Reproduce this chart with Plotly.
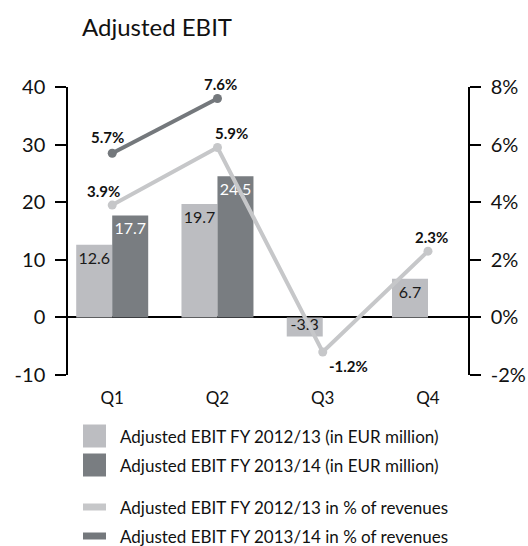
import plotly.graph_objects as go

quarters = ["Q1", "Q2", "Q3", "Q4"]
ebit_1213 = [12.6, 19.7, -3.3, 6.7]
ebit_1314 = [17.7, 24.5, None, None]
pct_1213 = [3.9, 5.9, -1.2, 2.3]
pct_1314 = [5.7, 7.6, None, None]

left_ticks = [-10, 0, 10, 20, 30, 40]
right_ticks = [-2, 0, 2, 4, 6, 8]

legend_names = [
    "Adjusted EBIT FY 2012/13 (in EUR million)",
    "Adjusted EBIT FY 2013/14 (in EUR million)",
    "Adjusted EBIT FY 2012/13 in % of revenues",
    "Adjusted EBIT FY 2013/14 in % of revenues",
]

light_bar = "#bcbdc1"
dark_bar = "#797d81"
light_line = "#c6c7c9"
dark_line = "#74787c"
font = "Lato, 'Open Sans', sans-serif"

W, H = 528, 546
ML, MR, MT, MB = 68, 60, 87, 171
PW, PH = W - ML - MR, H - MT - MB

xpos = list(range(len(quarters)))

fig = go.Figure()

fig.add_trace(go.Bar(
    x=xpos, y=ebit_1213, name=legend_names[0],
    marker=dict(color=light_bar, line=dict(width=0)),
    text=[f"{v}" for v in ebit_1213], textposition="inside", insidetextanchor="end",
    textangle=0, constraintext="none",
    textfont=dict(color="#1a1a1a", size=16, family=font),
    hoverinfo="skip",
))
fig.add_trace(go.Bar(
    x=xpos, y=ebit_1314, name=legend_names[1],
    marker=dict(color=dark_bar, line=dict(width=0)),
    text=[f"{v}" if v is not None else "" for v in ebit_1314],
    textposition="inside", insidetextanchor="end", textangle=0, constraintext="none",
    textfont=dict(color="white", size=16, family=font),
    hoverinfo="skip",
))

fig.add_trace(go.Scatter(
    x=xpos, y=pct_1213, yaxis="y2", mode="lines+markers", name=legend_names[2],
    line=dict(color=light_line, width=4), marker=dict(color=light_line, size=9),
    cliponaxis=False, hoverinfo="skip",
))
fig.add_trace(go.Scatter(
    x=xpos, y=pct_1314, yaxis="y2", mode="lines+markers", name=legend_names[3],
    line=dict(color=dark_line, width=4), marker=dict(color=dark_line, size=9),
    cliponaxis=False, hoverinfo="skip",
))

# percentage labels
shifts_1213 = [(-9, 14), (14, 14), (26, -14), (3, 14)]
shifts_1314 = [(-5, 16), (3, 15), (0, 0), (0, 0)]
for vals, shifts in ((pct_1213, shifts_1213), (pct_1314, shifts_1314)):
    for i, v in enumerate(vals):
        if v is None:
            continue
        fig.add_annotation(
            x=i, y=v, xref="x", yref="y2", text=f"<b>{v}%</b>", showarrow=False,
            xshift=shifts[i][0], yshift=shifts[i][1],
            font=dict(size=15, family=font, color="#111111"),
        )

# legend drawn by hand to match the large swatches
legend_rows = [436, 465, 507, 536]
for k, name in enumerate(legend_names):
    y_paper = (H - MB - legend_rows[k]) / PH
    x0 = (83 - ML) / PW
    x1 = (106 - ML) / PW
    if k < 2:
        half = 11.5 / PH
        color = light_bar if k == 0 else dark_bar
    else:
        half = 3.5 / PH
        color = light_line if k == 2 else dark_line
    fig.add_shape(type="rect", xref="paper", yref="paper", x0=x0, x1=x1,
                  y0=y_paper - half, y1=y_paper + half,
                  fillcolor=color, line=dict(width=0))
    fig.add_annotation(x=(118 - ML) / PW, y=y_paper, xref="paper", yref="paper",
                       text=name, showarrow=False, xanchor="left", yanchor="middle",
                       font=dict(size=17, family=font, color="#111111"))

fig.update_layout(
    width=W, height=H,
    margin=dict(l=ML, r=MR, t=MT, b=MB, autoexpand=False),
    paper_bgcolor="white", plot_bgcolor="white",
    font=dict(family=font, color="#111111"),
    title=dict(text="Adjusted EBIT", x=82 / W, xanchor="left", y=1 - 28 / H,
               yanchor="middle", font=dict(size=24, family=font, color="#111111")),
    barmode="group", bargap=0.316, bargroupgap=0,
    showlegend=False,
    xaxis=dict(range=[-0.42, 3.38], tickvals=xpos, ticktext=quarters,
               showgrid=False, zeroline=False, showline=False, automargin=False,
               ticks="outside", ticklen=8, tickcolor="white",
               tickfont=dict(size=17, family=font, color="#111111")),
    yaxis=dict(range=[-10, 40], tickvals=left_ticks, ticktext=[str(t) for t in left_ticks],
               showgrid=False, zeroline=True, zerolinecolor="black", zerolinewidth=1.5,
               showline=True, linecolor="black", linewidth=1.5, automargin=False,
               ticks="outside", ticklen=11, tickcolor="black", tickwidth=1.5,
               ticklabelstandoff=6,
               tickfont=dict(size=20, family=font, color="#111111")),
    yaxis2=dict(range=[-2, 8], tickvals=right_ticks, ticktext=[f"{t}%" for t in right_ticks],
                overlaying="y", side="right", showgrid=False, zeroline=False,
                showline=True, linecolor="black", linewidth=1.5, automargin=False,
                ticks="outside", ticklen=11, tickcolor="black", tickwidth=1.5,
                ticklabelstandoff=6,
                tickfont=dict(size=20, family=font, color="#111111")),
)

# drop the default page margin so the 528x546 figure fills the window exactly
fig.write_html(
    "out.html",
    config={"displayModeBar": False},
    post_script="document.body.style.margin='0';document.body.style.overflow='hidden';",
)
